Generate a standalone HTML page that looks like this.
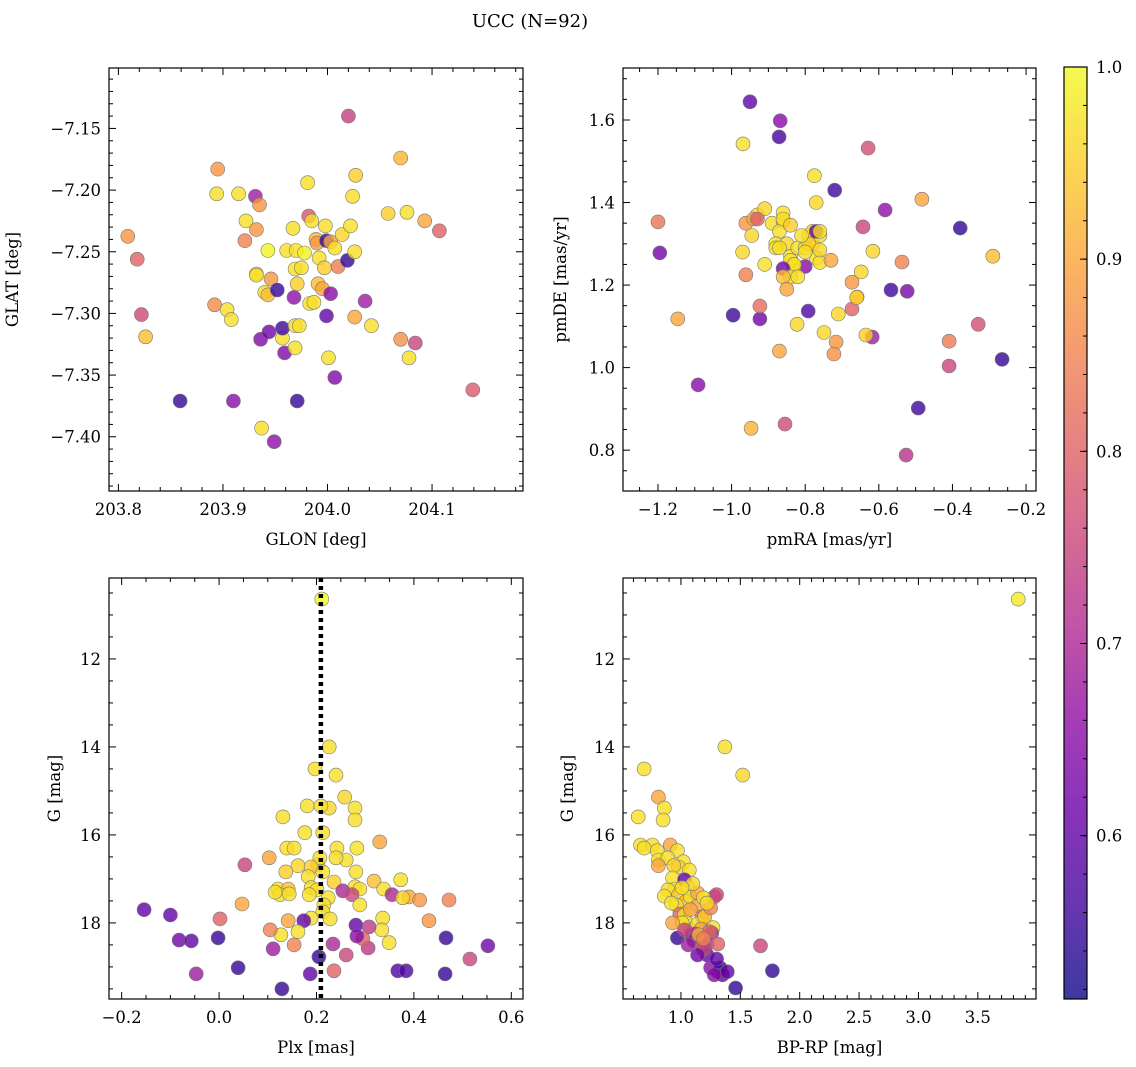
<!DOCTYPE html>
<html><head><meta charset="utf-8"><style>
html,body{margin:0;padding:0;background:#fff;}
svg{display:block;font-family:"DejaVu Serif","Liberation Serif",serif;}
</style></head><body>
<svg id="fig" width="1136" height="1067" viewBox="0 0 1136 1067" xmlns="http://www.w3.org/2000/svg">
<text x="530" y="27" font-size="18" text-anchor="middle">UCC (N=92)</text>
</svg>
<script>
// ---- data ----
const lonLat = [[203.809,-7.2375,0.88],[203.818,-7.256,0.80],[203.822,-7.301,0.76],[203.826,-7.319,0.93],[203.859,-7.371,0.55],[203.892,-7.293,0.86],[203.894,-7.203,0.97],[203.895,-7.183,0.88],[203.904,-7.297,0.97],[203.908,-7.305,0.97],[203.910,-7.371,0.65],[203.915,-7.203,0.97],[203.921,-7.241,0.85],[203.922,-7.225,0.97],[203.931,-7.205,0.68],[203.932,-7.232,0.88],[203.935,-7.212,0.88],[203.932,-7.268,0.97],[203.932,-7.269,0.97],[203.936,-7.321,0.64],[203.940,-7.283,0.97],[203.943,-7.249,0.99],[203.943,-7.285,0.93],[203.944,-7.315,0.62],[203.946,-7.272,0.88],[203.952,-7.281,0.55],[203.957,-7.320,0.97],[203.957,-7.312,0.56],[203.959,-7.332,0.64],[203.961,-7.249,0.97],[203.967,-7.231,0.97],[203.968,-7.287,0.66],[203.969,-7.310,0.97],[203.969,-7.264,0.97],[203.970,-7.249,0.97],[203.971,-7.276,0.95],[203.971,-7.371,0.55],[203.973,-7.310,0.97],[203.975,-7.263,0.97],[203.978,-7.251,0.99],[203.981,-7.194,0.97],[203.982,-7.221,0.78],[203.983,-7.292,0.97],[203.985,-7.225,0.97],[203.987,-7.291,0.97],[203.989,-7.240,0.92],[203.990,-7.243,0.88],[203.991,-7.276,0.93],[203.992,-7.255,0.97],[203.995,-7.280,0.90],[203.997,-7.263,0.95],[203.998,-7.229,0.97],[203.999,-7.241,0.55],[204.001,-7.336,0.97],[204.003,-7.242,0.90],[204.003,-7.284,0.65],[204.007,-7.247,0.97],[204.007,-7.352,0.64],[204.010,-7.262,0.84],[204.014,-7.236,0.96],[204.019,-7.257,0.55],[204.020,-7.140,0.74],[204.022,-7.229,0.97],[204.024,-7.205,0.97],[204.026,-7.250,0.97],[204.026,-7.303,0.90],[204.027,-7.188,0.95],[204.036,-7.290,0.68],[204.042,-7.310,0.97],[204.058,-7.219,0.95],[204.070,-7.174,0.92],[204.070,-7.321,0.87],[204.076,-7.218,0.97],[204.078,-7.336,0.97],[204.084,-7.324,0.75],[204.093,-7.225,0.90],[204.107,-7.233,0.80],[204.139,-7.362,0.79],[203.969,-7.328,0.97],[203.937,-7.393,0.97],[203.949,-7.404,0.66],[203.999,-7.302,0.60]];
const pmData = [[-0.950,1.644,0.60],[-0.868,1.598,0.65],[-0.871,1.559,0.57],[-0.969,1.542,0.97],[-0.629,1.532,0.77],[-1.200,1.353,0.83],[-1.195,1.278,0.62],[-1.146,1.118,0.90],[-1.091,0.958,0.65],[-0.947,0.853,0.92],[-0.855,0.863,0.76],[-0.526,0.788,0.72],[-0.483,1.408,0.90],[-0.379,1.338,0.55],[-0.265,1.020,0.55],[-0.290,1.270,0.93],[-0.493,0.902,0.56],[-0.567,1.188,0.56],[-0.523,1.185,0.63],[-0.583,1.382,0.66],[-0.643,1.341,0.75],[-0.616,1.282,0.96],[-0.537,1.256,0.85],[-0.648,1.232,0.96],[-0.673,1.207,0.88],[-0.659,1.171,0.93],[-0.618,1.074,0.68],[-0.635,1.079,0.95],[-0.673,1.142,0.80],[-0.716,1.062,0.88],[-0.722,1.033,0.87],[-0.749,1.085,0.96],[-0.792,1.137,0.58],[-0.822,1.105,0.96],[-0.409,1.064,0.84],[-0.409,1.004,0.75],[-0.330,1.105,0.77],[-0.996,1.127,0.56],[-0.923,1.118,0.62],[-0.923,1.149,0.82],[-0.961,1.225,0.85],[-0.961,1.35,0.88],[-0.945,1.32,0.96],[-0.97,1.28,0.96],[-0.93,1.37,0.97],[-0.91,1.385,0.96],[-0.94,1.36,0.9],[-0.89,1.35,0.97],[-0.86,1.355,0.95],[-0.86,1.375,0.97],[-0.87,1.33,0.97],[-0.88,1.30,0.97],[-0.85,1.30,0.96],[-0.84,1.27,0.97],[-0.82,1.29,0.97],[-0.80,1.29,0.97],[-0.78,1.30,0.97],[-0.79,1.32,0.97],[-0.78,1.33,0.97],[-0.76,1.32,0.97],[-0.77,1.33,0.6],[-0.76,1.33,0.97],[-0.77,1.265,0.97],[-0.76,1.255,0.97],[-0.80,1.245,0.65],[-0.83,1.245,0.97],[-0.84,1.26,0.97],[-0.83,1.25,0.97],[-0.86,1.24,0.62],[-0.84,1.22,0.97],[-0.82,1.22,0.97],[-0.86,1.22,0.93],[-0.85,1.19,0.9],[-0.91,1.25,0.97],[-0.88,1.29,0.97],[-0.93,1.36,0.8],[-0.77,1.40,0.96],[-0.775,1.465,0.97],[-0.72,1.43,0.56],[-0.73,1.26,0.9],[-0.71,1.13,0.96],[-0.87,1.04,0.9],[-0.86,1.36,0.97],[-0.79,1.30,0.95],[-0.81,1.32,0.97],[-0.84,1.345,0.95],[-0.87,1.29,0.97],[-0.76,1.285,0.96],[-0.66,1.17,0.95],[-0.8,1.28,0.97]];
const plxG = [[0.211,10.64,1.0],[0.226,14.00,0.97],[0.197,14.50,0.97],[0.240,14.64,0.97],[0.258,15.14,0.96],[0.226,15.39,0.96],[0.279,15.39,0.97],[0.279,15.66,0.97],[0.131,15.59,0.97],[0.181,15.34,0.97],[0.209,15.34,0.97],[0.176,15.95,0.97],[0.213,15.95,0.97],[0.330,16.16,0.90],[0.139,16.30,0.97],[0.154,16.30,0.97],[0.242,16.30,0.97],[0.283,16.30,0.97],[0.261,16.57,0.97],[0.203,16.68,0.95],[0.207,16.52,0.97],[0.162,16.70,0.96],[0.189,16.73,0.95],[0.213,16.84,0.97],[0.240,16.52,0.97],[0.103,16.52,0.90],[0.053,16.68,0.75],[0.281,16.84,0.97],[0.137,16.84,0.95],[0.183,16.95,0.97],[0.189,17.20,0.97],[0.236,17.07,0.95],[0.279,17.18,0.97],[0.318,17.05,0.93],[0.373,17.02,0.97],[0.254,17.27,0.70],[0.224,17.43,0.97],[0.289,17.23,0.97],[0.121,17.23,0.97],[0.142,17.23,0.93],[0.125,17.36,0.97],[0.201,17.25,0.97],[0.273,17.36,0.75],[0.390,17.41,0.90],[0.047,17.57,0.90],[0.115,17.30,0.97],[0.144,17.34,0.97],[0.185,17.36,0.97],[0.338,17.23,0.97],[0.215,17.59,0.97],[0.355,17.36,0.70],[0.213,17.75,0.97],[0.289,17.59,0.97],[0.336,17.89,0.97],[0.377,17.43,0.96],[0.412,17.48,0.88],[0.472,17.48,0.85],[0.189,17.89,0.97],[0.142,17.95,0.90],[0.228,17.91,0.97],[0.002,17.91,0.80],[-0.100,17.82,0.60],[-0.154,17.70,0.60],[0.174,17.95,0.60],[0.234,18.48,0.70],[0.162,18.20,0.97],[0.127,18.27,0.97],[0.105,18.16,0.85],[0.334,18.16,0.97],[0.281,18.05,0.60],[0.308,18.09,0.73],[0.306,18.57,0.73],[0.295,18.36,0.80],[0.349,18.45,0.97],[0.283,18.30,0.65],[0.205,18.77,0.55],[0.154,18.50,0.85],[0.111,18.59,0.68],[-0.082,18.39,0.62],[-0.057,18.41,0.60],[-0.002,18.34,0.55],[0.039,19.02,0.55],[0.261,18.73,0.75],[0.367,19.09,0.58],[0.384,19.09,0.58],[0.464,19.16,0.55],[0.466,18.34,0.55],[0.552,18.52,0.62],[0.515,18.82,0.75],[-0.047,19.16,0.68],[0.129,19.50,0.55],[0.187,19.16,0.60],[0.236,19.09,0.80],[0.431,17.95,0.88]];
const colG = [[3.84,10.64,0.98],[1.37,14.00,0.97],[1.52,14.64,0.96],[0.69,14.50,0.97],[0.81,15.14,0.90],[0.86,15.39,0.97],[0.85,15.66,0.97],[0.64,15.59,0.97],[0.66,16.23,0.97],[0.76,16.23,0.97],[0.69,16.30,0.97],[0.91,16.23,0.90],[0.80,16.36,0.97],[0.97,16.36,0.97],[0.81,16.57,0.97],[0.89,16.52,0.97],[1.02,16.61,0.97],[0.98,16.73,0.96],[1.07,16.80,0.97],[0.81,16.70,0.90],[0.94,16.70,0.95],[0.93,16.98,0.97],[0.95,17.23,0.97],[0.89,17.25,0.97],[0.98,17.36,0.95],[1.04,17.52,0.93],[0.86,17.39,0.97],[1.03,17.02,0.60],[1.06,17.20,0.97],[1.08,17.41,0.97],[1.14,17.32,0.90],[0.96,17.59,0.97],[0.99,17.80,0.80],[1.03,17.82,0.97],[1.04,17.98,0.97],[1.08,18.16,0.88],[1.09,18.27,0.60],[1.14,17.61,0.90],[1.18,17.86,0.80],[1.19,17.93,0.88],[1.14,18.02,0.97],[1.11,18.41,0.60],[1.18,18.52,0.80],[1.22,18.48,0.70],[1.22,18.73,0.60],[1.25,19.02,0.65],[1.20,17.86,0.95],[1.27,18.11,0.97],[1.17,18.14,0.90],[1.26,18.23,0.70],[1.31,18.48,0.80],[1.19,18.61,0.75],[1.12,18.25,0.70],[1.28,17.41,0.75],[1.30,17.36,0.75],[1.25,17.66,0.85],[1.31,19.11,0.60],[1.33,19.02,0.55],[1.35,19.18,0.60],[1.39,19.11,0.60],[1.46,19.48,0.55],[1.28,19.18,0.65],[1.67,18.52,0.75],[1.77,19.09,0.55],[1.15,18.27,0.92],[1.08,17.70,0.90],[1.01,18.00,0.97],[0.97,18.34,0.55],[1.24,18.20,0.80],[1.06,18.50,0.68],[1.14,18.73,0.62],[1.30,18.82,0.60],[1.03,18.16,0.75],[0.93,18.00,0.90],[1.10,17.11,0.96],[1.19,17.43,0.97],[1.22,17.55,0.96],[1.01,17.20,0.97],[0.92,17.55,0.97],[1.19,18.36,0.85]];
const plxMedian = [0.209];
const cbTicks = [0.6,0.7,0.8,0.9,1.0];
const cbRange = [0.515,1.0];

// ---- helpers ----
const NS="http://www.w3.org/2000/svg";
const svg=document.getElementById('fig');
function mk(tag,attrs,parent){const e=document.createElementNS(NS,tag);for(const k in attrs)e.setAttribute(k,attrs[k]);(parent||svg).appendChild(e);return e;}
const plasmaStops=["#0d0887","#41049d","#6a00a8","#8f0da4","#b12a90","#cc4778","#e16462","#f2844b","#fca636","#fcce25","#f0f921"];
function hex(h){return [parseInt(h.slice(1,3),16),parseInt(h.slice(3,5),16),parseInt(h.slice(5,7),16)];}
function plasma(t){t=Math.max(0,Math.min(1,t));const f=t*10,i=Math.min(9,Math.floor(f)),r=f-i;const a=hex(plasmaStops[i]),b=hex(plasmaStops[i+1]);return `rgb(${a.map((v,k)=>Math.round(v+(b[k]-v)*r)).join(',')})`;}
function fmt(v,d){const s=Math.abs(v).toFixed(d);return (v<-1e-9?'\u2212':'')+s;}

const panels=[
 {name:'glon-glat',box:[109,68,523,491],xd:[203.791,204.187],yd:[-7.444,-7.101],data:lonLat,xmaj:0.1,xmin:0.02,ymaj:0.05,ymin:0.01,xdec:1,ydec:2,xl:'GLON [deg]',yl:'GLAT [deg]',ylx:18},
 {name:'pmra-pmde',box:[623,68,1036,491],xd:[-1.295,-0.173],yd:[0.701,1.726],data:pmData,xmaj:0.2,xmin:0.05,ymaj:0.2,ymin:0.05,xdec:1,ydec:1,xl:'pmRA [mas/yr]',yl:'pmDE [mas/yr]',ylx:566},
 {name:'plx-g',box:[109,578,523,999],xd:[-0.226,0.624],yd:[19.73,10.16],data:plxG,xmaj:0.2,xmin:0.05,ymaj:2,ymin:0.5,xdec:1,ydec:0,xl:'Plx [mas]',yl:'G [mag]',ylx:60,median:true},
 {name:'bprp-g',box:[623,578,1036,999],xd:[0.512,3.99],yd:[19.73,10.16],data:colG,xmaj:0.5,xmin:0.1,ymaj:2,ymin:0.5,xdec:1,ydec:0,xl:'BP-RP [mag]',yl:'G [mag]',ylx:573}
];

panels.forEach(p=>{
 const [x0,y0,x1,y1]=p.box;
 const g=mk('g',{});
 
 
 const sx=v=>x0+(v-p.xd[0])/(p.xd[1]-p.xd[0])*(x1-x0);
 const sy=v=>y1-(v-p.yd[0])/(p.yd[1]-p.yd[0])*(y1-y0);
 const cp='clip-'+p.name;
 const defs=mk('defs',{},g);const c=mk('clipPath',{id:cp},defs);mk('rect',{x:x0,y:y0,width:x1-x0,height:y1-y0},c);
 const pts=mk('g',{'clip-path':`url(#${cp})`},g);
 p.data.forEach((d,i)=>{
  const t=(d[2]-cbRange[0])/(cbRange[1]-cbRange[0]);
  const ci=mk('circle',{cx:sx(d[0]).toFixed(1),cy:sy(d[1]).toFixed(1),r:7,fill:plasma(t),'fill-opacity':0.8,stroke:'#777','stroke-width':0.6},pts);
  
  
 });
 if(p.median){
  const ln=mk('line',{x1:sx(plxMedian[0]),x2:sx(plxMedian[0]),y1:y0,y2:y1,stroke:'#000','stroke-width':4.5,'stroke-dasharray':'4 4'},g);
  
  
 }
 const fr=mk('rect',{x:x0,y:y0,width:x1-x0,height:y1-y0,fill:'none',stroke:'#000','stroke-width':1.2},g);
 
 
 const eps=1e-7;
 for(let v=Math.ceil(p.xd[0]/p.xmin-eps)*p.xmin;v<=p.xd[1]+eps;v+=p.xmin){
  const isMaj=Math.abs(v/p.xmaj-Math.round(v/p.xmaj))<1e-4;const L=isMaj?7:4;const X=sx(v);
  mk('line',{x1:X,x2:X,y1:y1,y2:y1-L,stroke:'#000','stroke-width':1},g);
  mk('line',{x1:X,x2:X,y1:y0,y2:y0+L,stroke:'#000','stroke-width':1},g);
  if(isMaj){const t=mk('text',{x:X,y:y1+24,'font-size':16.5,'text-anchor':'middle'},g);t.textContent=fmt(Math.round(v/p.xmaj)*p.xmaj,p.xdec);
   }
 }
 const ylo=Math.min(...p.yd),yhi=Math.max(...p.yd);
 for(let v=Math.ceil(ylo/p.ymin-eps)*p.ymin;v<=yhi+eps;v+=p.ymin){
  const isMaj=Math.abs(v/p.ymaj-Math.round(v/p.ymaj))<1e-4;const L=isMaj?7:4;const Y=sy(v);
  mk('line',{x1:x0,x2:x0+L,y1:Y,y2:Y,stroke:'#000','stroke-width':1},g);
  mk('line',{x1:x1,x2:x1-L,y1:Y,y2:Y,stroke:'#000','stroke-width':1},g);
  if(isMaj){const t=mk('text',{x:x0-8,y:Y+6,'font-size':16.5,'text-anchor':'end'},g);t.textContent=fmt(Math.round(v/p.ymaj)*p.ymaj,p.ydec);
   }
 }
 const xt=mk('text',{x:(x0+x1)/2,y:y1+54,'font-size':16.5,'text-anchor':'middle'},g);xt.textContent=p.xl;
 
 const yc=(y0+y1)/2;
 const yt=mk('text',{x:p.ylx,y:yc,'font-size':16.5,'text-anchor':'middle',transform:`rotate(-90 ${p.ylx} ${yc})`},g);yt.textContent=p.yl;
 
});

// colorbar
(function(){
 const cx0=1064,cx1=1087,cy0=67,cy1=999;
 const g=mk('g',{});
 
 
 const defs=mk('defs',{},g);const lg=mk('linearGradient',{id:'cbg',x1:0,y1:1,x2:0,y2:0},defs);
 for(let i=0;i<=20;i++){const v=cbRange[0]+(cbRange[1]-cbRange[0])*i/20;mk('stop',{offset:i/20,'stop-color':plasma((v-cbRange[0])/(cbRange[1]-cbRange[0])),'stop-opacity':0.8},lg);}
 mk('rect',{x:cx0,y:cy0,width:cx1-cx0,height:cy1-cy0,fill:'url(#cbg)',stroke:'#000','stroke-width':1.2},g);
 const sy=v=>cy1-(v-cbRange[0])/(cbRange[1]-cbRange[0])*(cy1-cy0);
 for(let v=0.52;v<=1.0001;v+=0.02){const Y=sy(v);mk('line',{x1:cx1,x2:cx1-4,y1:Y,y2:Y,stroke:'#000','stroke-width':1},g);}
 cbTicks.forEach(v=>{const Y=sy(v);mk('line',{x1:cx1,x2:cx1-7,y1:Y,y2:Y,stroke:'#000','stroke-width':1},g);
  const t=mk('text',{x:cx1+9,y:Y+6,'font-size':16.5},g);t.textContent=v.toFixed(1);
  });
})();
</script>
</body></html>
